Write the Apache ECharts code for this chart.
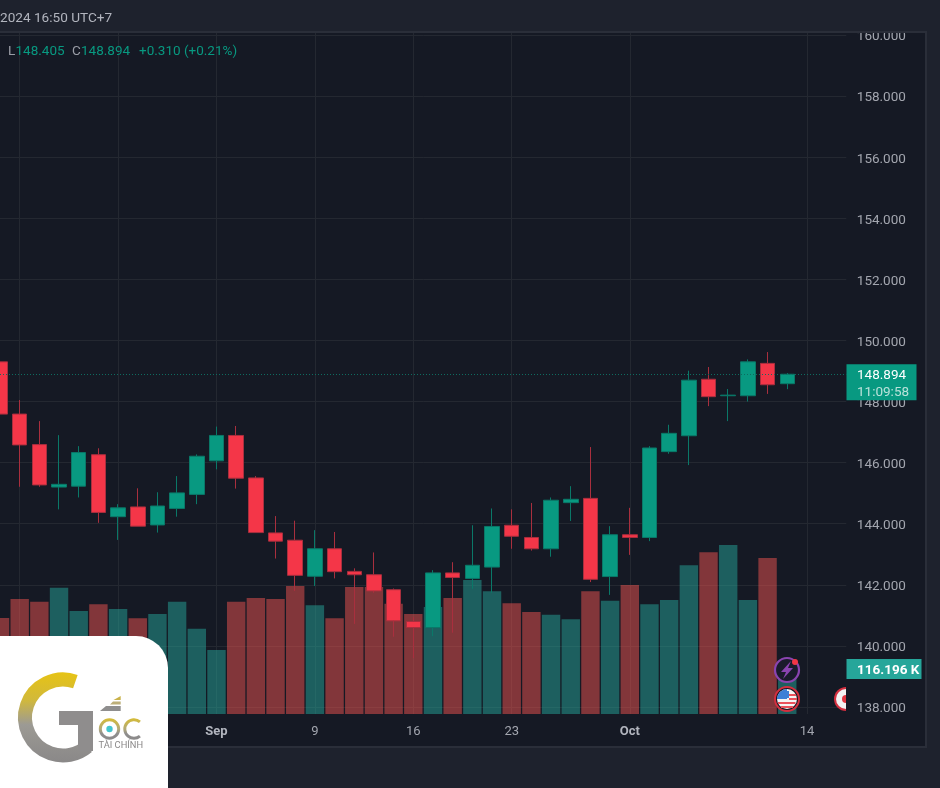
<!DOCTYPE html>
<html><head><meta charset="utf-8">
<style>html,body{margin:0;padding:0;background:#1e222d;overflow:hidden}#c{width:940px;height:788px}</style>
<script src="https://cdn.jsdelivr.net/npm/echarts@6/dist/echarts.min.js"></script>
</head><body><div id="c"></div>
<script>
const categories=['16','19','20','21','22','23','26','27','28','29','30','Sep','3','4','5','6','9','10','11','12','13','16','17','18','19','20','23','24','25','26','27','30','Oct','2','3','4','7','8','9','10','11','14','15','16'];
const tickIndexes=[1,6,11,16,21,26,32,41];
const opens=[149.30,147.59,146.59,145.20,145.23,146.26,144.23,144.55,143.96,144.50,144.96,146.06,146.89,145.50,143.70,143.46,142.28,143.18,142.44,142.33,141.84,140.80,140.60,142.39,142.21,142.58,143.95,143.55,143.18,144.69,144.83,142.27,143.64,143.55,146.36,146.88,148.73,148.19,148.19,149.25,148.584];
const closes=[147.59,146.58,145.27,145.29,146.33,144.37,144.52,143.92,144.58,145.01,146.21,146.89,145.49,143.71,143.43,142.31,143.18,142.43,142.33,141.80,140.82,140.60,142.39,142.24,142.64,143.91,143.59,143.18,144.77,144.80,142.18,143.64,143.55,146.48,146.96,148.70,148.16,148.21,149.30,148.55,148.894];
const lows=[147.59,145.21,145.21,144.47,144.86,144.03,143.47,143.92,143.71,144.23,144.64,145.78,145.15,143.71,142.86,141.80,141.96,142.21,140.72,141.74,140.30,139.60,140.32,140.43,141.87,141.74,143.18,143.12,142.92,144.09,142.09,141.67,142.98,143.43,146.29,145.92,147.85,147.36,148.00,148.25,148.405];
const highs=[149.30,148.05,147.36,146.90,146.54,146.47,144.64,145.16,145.03,145.56,146.27,147.18,147.20,145.56,144.25,144.10,143.79,143.73,142.54,143.06,141.88,140.94,142.48,142.74,143.95,144.50,144.47,144.68,144.86,145.23,146.51,143.92,144.52,146.54,147.24,149.01,149.13,148.41,149.38,149.62,148.93];
const volumes=[253.4,303.6,296.5,333.4,271.9,289.6,277.2,252.6,264,296.5,225.2,169,296.5,306.2,303.6,337.9,287,252.6,335.3,335.3,291.2,264,282.5,306.2,353.8,323.9,292.2,269.3,262.2,250,323.9,299.1,340.6,289.6,301,392.6,426.9,446.2,301,411.8,116.196];
const priceTicks=[138,140,142,144,146,148,150,152,154,156,158,160];

const UP='#089981',DOWN='#f43648',UPL='#0a7868',DOWNL='#a92f3e';
const PLOT='#151924',OUTER='#1e222d',EDGE='#2a2e39',TXT='#a3a6af',GRIDC='#242831';
const F='Roboto, sans-serif';
const shown=(i)=>tickIndexes.includes(i);
const chart=echarts.init(document.getElementById('c'),null,{renderer:'canvas',width:940,height:788});
const gx={left:-0.3,width:846.6};
chart.setOption({
 animation:false,backgroundColor:PLOT,
 grid:[{...gx,top:35,height:672},{...gx,top:32,height:682}],
 xAxis:[
  {type:'category',gridIndex:0,data:categories,boundaryGap:false,show:false},
  {type:'category',gridIndex:1,data:categories,boundaryGap:false,
   axisLine:{show:false},axisTick:{show:false},
   splitLine:{show:true,interval:(i)=>shown(i),lineStyle:{color:GRIDC,width:1}},
   axisLabel:{interval:(i)=>shown(i),margin:11,color:TXT,fontFamily:F,fontSize:13,
     formatter:(v)=>/[A-Za-z]/.test(v)?'{b|'+v+'}':v,
     rich:{b:{fontWeight:'bold',color:'#b2b5be',fontSize:13,fontFamily:F}}}}
 ],
 yAxis:[
  {type:'value',gridIndex:0,position:'right',min:priceTicks[0],max:priceTicks[priceTicks.length-1],interval:2,
   axisLine:{show:false},axisTick:{show:false},splitLine:{show:true,lineStyle:{color:GRIDC,width:1}},
   axisLabel:{margin:10.5,color:TXT,fontFamily:F,fontSize:13.5,verticalAlign:'top',lineHeight:4,formatter:(v)=>v.toFixed(3)}},
  {type:'value',gridIndex:1,min:0,max:1800.5,show:false,splitLine:{show:false}}
 ],
 series:[
  {type:'bar',xAxisIndex:1,yAxisIndex:1,barWidth:18.4,z:1,
   data:volumes.map((v,i)=>({value:v,itemStyle:{color:closes[i]>=opens[i]?'rgba(38,166,154,.5)':'rgba(239,83,80,.5)'}}))},
  {type:'candlestick',xAxisIndex:0,yAxisIndex:0,barWidth:15,z:3,
   data:opens.map((o,i)=>[o,closes[i],lows[i],highs[i]]),
   itemStyle:{color:UP,color0:DOWN,borderColor:UPL,borderColor0:DOWNL,borderWidth:1},
   markLine:{silent:true,symbol:'none',label:{show:false},
     lineStyle:{color:'#0e6c60',type:[1,2],width:1},
     data:[{yAxis:closes[closes.length-1]}]}}
 ]
});

const lastY=chart.convertToPixel({yAxisIndex:0},closes[closes.length-1]);
const volY=chart.convertToPixel({yAxisIndex:1},volumes[volumes.length-1]);
const rect=(x,y,w,h,fill,z,r)=>({type:'rect',z,shape:{x,y,width:w,height:h,r:r||0},style:{fill}});
const txt=(text,x,y,fill,z,font,extra)=>({type:'text',z,x,y,style:Object.assign({text,fill,font:font||('13.5px '+F),verticalAlign:'middle',align:'left'},extra||{})});
const grad=(stops)=>new echarts.graphic.LinearGradient(0,0,0,1,stops);
const gGold=[{offset:0,color:'#e6c315'},{offset:.3,color:'#d2b93a'},{offset:.58,color:'#9c9a94'},{offset:1,color:'#8a8888'}];
const oGold=[{offset:0,color:'#d9bd2e'},{offset:.5,color:'#b3ab7a'},{offset:.7,color:'#8f8e8e'},{offset:1,color:'#8a8888'}];
const D=Math.PI/180;
const arc=(cx,cy,r,a,b,cw,lw,stroke,z)=>({type:'arc',z,shape:{cx,cy,r,startAngle:a,endAngle:b,clockwise:cw},style:{stroke,lineWidth:lw,fill:null,lineCap:'butt'}});
const poly=(points,fill,z)=>({type:'polygon',z,shape:{points},style:{fill}});
const circ=(cx,cy,r,fill,stroke,lw,z)=>({type:'circle',z,shape:{cx,cy,r},style:{fill,stroke,lineWidth:lw||0}});

const els=[
 rect(0,0,940,31,OUTER,10), rect(0,31,927,2,EDGE,10),
 rect(926,31,14,757,OUTER,10), rect(925,31,2,717,EDGE,10),
 rect(0,747,940,41,OUTER,10), rect(0,746,927,2,EDGE,10),
 txt('2024 16:50 UTC+7',0,19,'#b2b5be',11,'13.6px '+F),
 txt('L',8,51.5,'#9a9da6',11), txt('148.405',15.5,51.5,UP,11),
 txt('C',72,51.5,'#9a9da6',11), txt('148.894',81,51.5,UP,11),
 txt('+0.310 (+0.21%)',139,51.5,UP,11),
 rect(846.5,lastY-10,70,36,'#089981',12),
 txt('148.894',857,lastY+1.3,'#ffffff',13),
 txt('11:09:58',857,lastY+18.3,'#b9e2da',13),
 rect(846.5,volY-11,75,20,'#26a69a',12),
 txt('116.196 K',857,volY+1,'#ffffff',13,'bold 13.5px '+F),
 circ(787,670,12,'#1a1b2b','#8a44b0',2.2,6),
 poly([[791,661],[781,672],[786,672],[783,679],[793,668],[788,668]],'#8a44b0',7),
 circ(795,662,3,'#f23645',null,0,8),
 circ(787,699,12,'#131722','#d32f3f',2,6),
 circ(787,699,10,'#f4f4f4',null,0,7),
 {type:'sector',z:8,shape:{cx:787,cy:699,r:10,r0:0,startAngle:180*D,endAngle:270*D},style:{fill:'#3f7fd6'}},
 rect(777,697,3,2,'#3f7fd6',8),rect(787,691,2,7,'#3f7fd6',8),
 rect(789,694,7,2,'#e9525c',8),rect(789,698,8,2,'#e9525c',8),
 rect(778,702,17.5,2,'#e9525c',8),rect(781,706,12,2,'#e9525c',8),
 {type:'sector',z:6,shape:{cx:846,cy:699,r:12,r0:0,startAngle:90*D,endAngle:270*D},style:{fill:'#d32f3f'}},
 {type:'sector',z:7,shape:{cx:846,cy:699,r:10,r0:0,startAngle:90*D,endAngle:270*D},style:{fill:'#f2f2f2'}},
 {type:'sector',z:8,shape:{cx:846,cy:699,r:4,r0:0,startAngle:90*D,endAngle:270*D},style:{fill:'#e0343f'}},
 rect(0,636,168,152,'#ffffff',20,[0,32,0,0]),
 arc(63,717.5,38,-71*D,50*D,false,14,grad(gGold),21),
 rect(59,711,34,14,'#8f8d8d',21), rect(78,711,15,40,'#8f8d8d',21),
 poly([[120.7,696],[120.7,700],[113.5,700]],'#c9b24a',21),
 poly([[120.7,701.5],[120.7,704.5],[110,704.5],[113,701.5]],'#bcae78',21),
 poly([[120.7,706],[120.7,711],[100,711],[106,706]],'#8f8e8e',21),
 {type:'circle',z:21,shape:{cx:109.5,cy:729,r:9.2},style:{fill:null,stroke:grad(oGold),lineWidth:3}},
 circ(109.5,729,3.2,'#43c6cf',null,0,21),
 arc(134,729,9.2,-50*D,50*D,false,3,grad(oGold),21),
 txt('TÀI CHÍNH',98.5,746,'#8a8888',21,'9.3px '+F)
];
chart.setOption({graphic:{elements:els}});
</script></body></html>
